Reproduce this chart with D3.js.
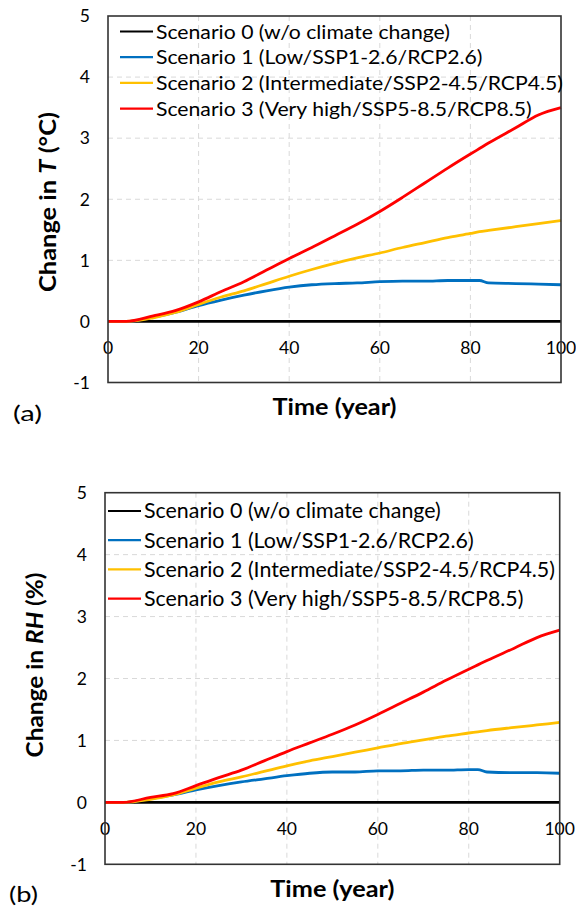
<!DOCTYPE html>
<html>
<head>
<style>
  html, body { margin: 0; padding: 0; background: #fff; }
  svg { display: block; font-family: Lato, "Open Sans", sans-serif; }
</style>
</head>
<body>
<svg width="576" height="908"></svg>
<script src="https://cdn.jsdelivr.net/npm/d3@7"></script>
<script>
// data
const years = [0, 4, 10, 15, 20, 25, 30, 35, 40, 45, 50, 55, 60, 65, 70, 75, 80, 82, 84, 90, 95, 100];

const s0 = years.map(() => 0);
const s1T = [0, 0, 0.07, 0.15, 0.26, 0.35, 0.43, 0.50, 0.56, 0.60, 0.62, 0.63, 0.65, 0.66, 0.66, 0.67, 0.67, 0.67, 0.63, 0.62, 0.61, 0.60];
const s2T = [0, 0, 0.06, 0.15, 0.28, 0.40, 0.50, 0.62, 0.74, 0.85, 0.95, 1.04, 1.12, 1.21, 1.29, 1.37, 1.44, 1.47, 1.49, 1.55, 1.60, 1.65];
const s3T = [0, 0, 0.09, 0.18, 0.32, 0.49, 0.65, 0.84, 1.03, 1.21, 1.40, 1.59, 1.80, 2.03, 2.27, 2.51, 2.74, 2.83, 2.92, 3.17, 3.38, 3.50];

const s1RH = [0, 0, 0.06, 0.12, 0.20, 0.27, 0.33, 0.38, 0.43, 0.47, 0.49, 0.49, 0.51, 0.51, 0.52, 0.52, 0.53, 0.53, 0.49, 0.48, 0.48, 0.47];
const s2RH = [0, 0, 0.05, 0.12, 0.23, 0.33, 0.41, 0.50, 0.59, 0.67, 0.74, 0.81, 0.88, 0.95, 1.01, 1.07, 1.12, 1.14, 1.16, 1.21, 1.25, 1.29];
const s3RH = [0, 0, 0.08, 0.14, 0.27, 0.40, 0.52, 0.67, 0.82, 0.96, 1.10, 1.25, 1.42, 1.60, 1.78, 1.97, 2.15, 2.22, 2.29, 2.49, 2.66, 2.78];

const scenarioNames = [
  "Scenario 0 (w/o climate change)",
  "Scenario 1 (Low/SSP1-2.6/RCP2.6)",
  "Scenario 2 (Intermediate/SSP2-4.5/RCP4.5)",
  "Scenario 3 (Very high/SSP5-8.5/RCP8.5)"
];
const colors = ["#000000", "#0070C0", "#FFC000", "#FF0000"];
const xTicks = [0, 20, 40, 60, 80, 100];
const yTicks = [-1, 0, 1, 2, 3, 4, 5];

const svg = d3.select("svg");
svg.append("rect").attr("width", 576).attr("height", 908).attr("fill", "#fff");

function panel(opt) {
  let x = d3.scaleLinear().domain([0, 100]).range([opt.left, opt.right]);
  let y = d3.scaleLinear().domain([-1, 5]).range([opt.bottom, opt.top]);
  let g = svg.append("g");

  // grid
  g.selectAll(".gx").data(xTicks.slice(1, -1)).enter().append("line")
    .attr("x1", d => x(d)).attr("x2", d => x(d))
    .attr("y1", opt.top).attr("y2", opt.bottom)
    .attr("stroke", "#d9d9d9").attr("stroke-width", 1).attr("stroke-dasharray", "5,4");
  g.selectAll(".gy").data(yTicks.slice(1, -1)).enter().append("line")
    .attr("x1", opt.left).attr("x2", opt.right)
    .attr("y1", d => y(d)).attr("y2", d => y(d))
    .attr("stroke", "#d9d9d9").attr("stroke-width", 1).attr("stroke-dasharray", "5,4");

  // tick labels
  g.selectAll(".ty").data(yTicks).enter().append("text")
    .attr("x", opt.left - 18).attr("y", d => y(d))
    .attr("dy", "0.36em").attr("text-anchor", "end")
    .attr("font-size", 17.5).attr("fill", "#000")
    .text(d => d);
  g.selectAll(".tx").data(xTicks).enter().append("text")
    .attr("x", d => x(d)).attr("y", y(0) + 26)
    .attr("dy", "0.36em").attr("text-anchor", "middle")
    .attr("font-size", 17.5).attr("fill", "#000")
    .text(d => d);

  // series
  let line = d3.line()
    .x((d, i) => x(years[i]))
    .y(d => y(d))
    .curve(d3.curveMonotoneX);
  opt.series.forEach((s, i) => {
    g.append("path")
      .attr("d", line(s))
      .attr("fill", "none")
      .attr("stroke", colors[i])
      .attr("stroke-width", 2.8)
      .attr("stroke-linejoin", "round");
  });

  // border
  g.append("rect")
    .attr("x", opt.left).attr("y", opt.top)
    .attr("width", opt.right - opt.left).attr("height", opt.bottom - opt.top)
    .attr("fill", "none").attr("stroke", "#333").attr("stroke-width", 1.6);

  // legend
  let leg = g.append("g");
  scenarioNames.forEach((name, i) => {
    let ly = opt.legTop + i * opt.legStep;
    leg.append("line")
      .attr("x1", opt.legX).attr("x2", opt.legX + 33)
      .attr("y1", ly).attr("y2", ly)
      .attr("stroke", colors[i]).attr("stroke-width", 2.2);
    leg.append("text")
      .attr("class", "legtext")
      .attr("x", opt.legX + 36).attr("y", ly)
      .attr("dy", "0.36em")
      .attr("font-size", opt.legSize).attr("fill", "#000")
      .text(name);
  });
  // stretch all entries by the same factor so the longest one matches the measured width
  let texts = leg.selectAll(".legtext");
  let k = opt.legWidth / texts.nodes()[2].getComputedTextLength();
  texts.each(function () {
    d3.select(this)
      .attr("textLength", this.getComputedTextLength() * k)
      .attr("lengthAdjust", "spacingAndGlyphs");
  });

  // axis titles
  g.append("text")
    .attr("x", (opt.left + opt.right) / 2).attr("y", opt.bottom + 32.5)
    .attr("text-anchor", "middle").attr("font-size", 22).attr("font-weight", "bold")
    .attr("textLength", 124).attr("lengthAdjust", "spacingAndGlyphs")
    .text("Time (year)");
  let yt = g.append("text")
    .attr("transform", "translate(" + opt.yTitleX + "," + opt.yTitleY + ") rotate(-90)")
    .attr("text-anchor", "middle").attr("font-size", 22).attr("font-weight", "bold")
    .attr("textLength", opt.yTitleLen).attr("lengthAdjust", "spacingAndGlyphs");
  yt.append("tspan").text("Change in ");
  yt.append("tspan").attr("font-style", "italic").text(opt.varName);
  yt.append("tspan").text(" " + opt.unit);

  g.append("text")
    .attr("x", opt.tagX).attr("y", opt.tagY)
    .attr("font-size", 22).attr("fill", "#000")
    .attr("textLength", 29).attr("lengthAdjust", "spacingAndGlyphs")
    .text(opt.tag);
}

panel({
  left: 108, right: 561, top: 16, bottom: 382.5,
  series: [s0, s1T, s2T, s3T],
  legX: 120, legTop: 31.5, legStep: 25.7, legSize: 19.5, legWidth: 407,
  yTitleX: 56, yTitleY: 202, yTitleLen: 180, varName: "T", unit: "(°C)",
  tag: "(a)", tagX: 13, tagY: 421
});
panel({
  left: 105, right: 559.7, top: 492.7, bottom: 864.3,
  series: [s0, s1RH, s2RH, s3RH],
  legX: 108, legTop: 511, legStep: 29.2, legSize: 20.5, legWidth: 411,
  yTitleX: 43, yTitleY: 665, yTitleLen: 185, varName: "RH", unit: "(%)",
  tag: "(b)", tagX: 9, tagY: 902
});
</script>
</body>
</html>
